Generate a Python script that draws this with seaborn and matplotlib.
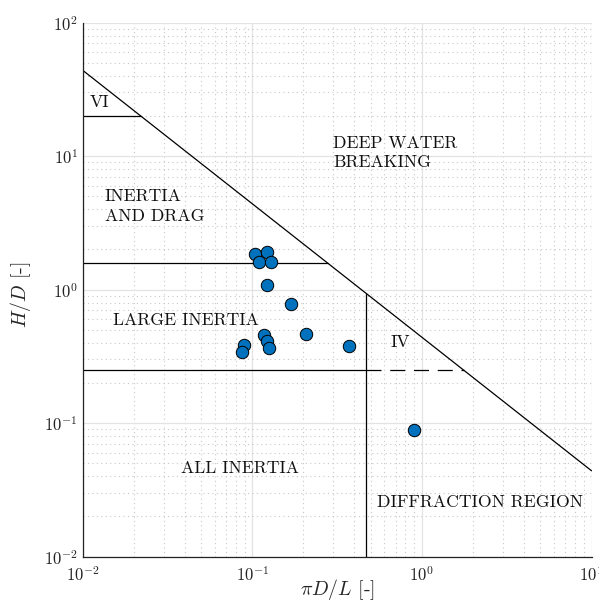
import numpy as np
import pandas as pd
import matplotlib
matplotlib.use("Agg")
import matplotlib.pyplot as plt
import seaborn as sns

# Measured points (pi*D/L, H/D)
pi_d_over_l = [0.104, 0.122, 0.110, 0.129, 0.122, 0.169, 0.118, 0.122, 0.126,
               0.208, 0.089, 0.087, 0.373, 0.897]
h_over_d = [1.85, 1.93, 1.62, 1.62, 1.08, 0.78, 0.455, 0.413, 0.368,
            0.463, 0.383, 0.340, 0.381, 0.089]

# Region boundaries
breaking_coef = 0.14 * np.pi      # H/D = coef / (pi D/L)
h_vi = 20.0
h_drag = np.pi / 2
h_inertia = 0.25
x_diffraction = 0.15 * np.pi

region_labels = ["VI", "DEEP WATER\nBREAKING", "INERTIA\nAND DRAG", "LARGE INERTIA",
                 "IV", "ALL INERTIA", "DIFFRACTION REGION"]
label_x = [0.0110, 0.30, 0.0135, 0.0151, 0.65, 0.038, 0.545]
label_y = [25.5, 10.6, 4.2, 0.593, 0.405, 0.046, 0.0257]

sns.set_theme(style="white")
plt.rcParams['font.family'] = ['cmr10', 'DejaVu Serif']
plt.rcParams['mathtext.fontset'] = 'cm'
plt.rcParams['axes.formatter.use_mathtext'] = True
plt.rcParams['axes.unicode_minus'] = False

fig = plt.figure(figsize=(5.99, 6.09), dpi=100)
ax = fig.add_axes([0.138, 0.086, 0.8495, 0.8768])
ax.set_xscale('log')
ax.set_yscale('log')
ax.set_xlim(1e-2, 1e1)
ax.set_ylim(1e-2, 1e2)

ax.grid(which='major', color='#e3e3e3', linewidth=0.9, linestyle='-')
ax.grid(which='minor', color='#c8c8c8', linewidth=0.8, linestyle=(0, (1, 3)))
ax.set_axisbelow(True)

lw = 0.9
xs = np.array([1e-2, 1e1])
ax.plot(xs, breaking_coef / xs, color='black', lw=lw)
ax.plot([1e-2, breaking_coef / h_vi], [h_vi, h_vi], color='black', lw=lw)
ax.plot([1e-2, breaking_coef / h_drag], [h_drag, h_drag], color='black', lw=lw)
ax.plot([1e-2, x_diffraction], [h_inertia, h_inertia], color='black', lw=lw)
ax.plot([x_diffraction, breaking_coef / h_inertia], [h_inertia, h_inertia],
        color='black', lw=lw, linestyle=(0, (12, 7)))
ax.plot([x_diffraction, x_diffraction], [1e-2, breaking_coef / x_diffraction],
        color='black', lw=lw)

df = pd.DataFrame({'x': pi_d_over_l, 'y': h_over_d})
sns.scatterplot(data=df, x='x', y='y', ax=ax, s=80, color='#0072BD',
                edgecolor='black', linewidth=0.7, zorder=5)

for t, x, y in zip(region_labels, label_x, label_y):
    ax.text(x, y, t, fontsize=12.7, ha='left', va='center', color='#111111',
            linespacing=1.33)

ax.set_xlabel(r'$\pi D/L$ [-]', fontsize=14.3)
ax.set_ylabel(r'$H/D$ [-]', fontsize=14.3)
ax.xaxis.set_label_coords(0.5, -0.038)
ax.yaxis.set_label_coords(-0.098, 0.49)

for s in ['top', 'right']:
    ax.spines[s].set_visible(False)
for s in ['left', 'bottom']:
    ax.spines[s].set_color('#222222')
    ax.spines[s].set_linewidth(0.9)
ax.tick_params(which='both', direction='in', colors='#222222', labelsize=12)
ax.tick_params(which='major', length=5)
ax.tick_params(which='minor', length=3)
ax.xaxis.set_minor_locator(matplotlib.ticker.LogLocator(subs=np.arange(2, 10)))
ax.yaxis.set_minor_locator(matplotlib.ticker.LogLocator(subs=np.arange(2, 10)))
ax.xaxis.set_minor_formatter(matplotlib.ticker.NullFormatter())
ax.yaxis.set_minor_formatter(matplotlib.ticker.NullFormatter())
ax.tick_params(axis='x', pad=6)

fig.savefig('out.png', dpi=100)
